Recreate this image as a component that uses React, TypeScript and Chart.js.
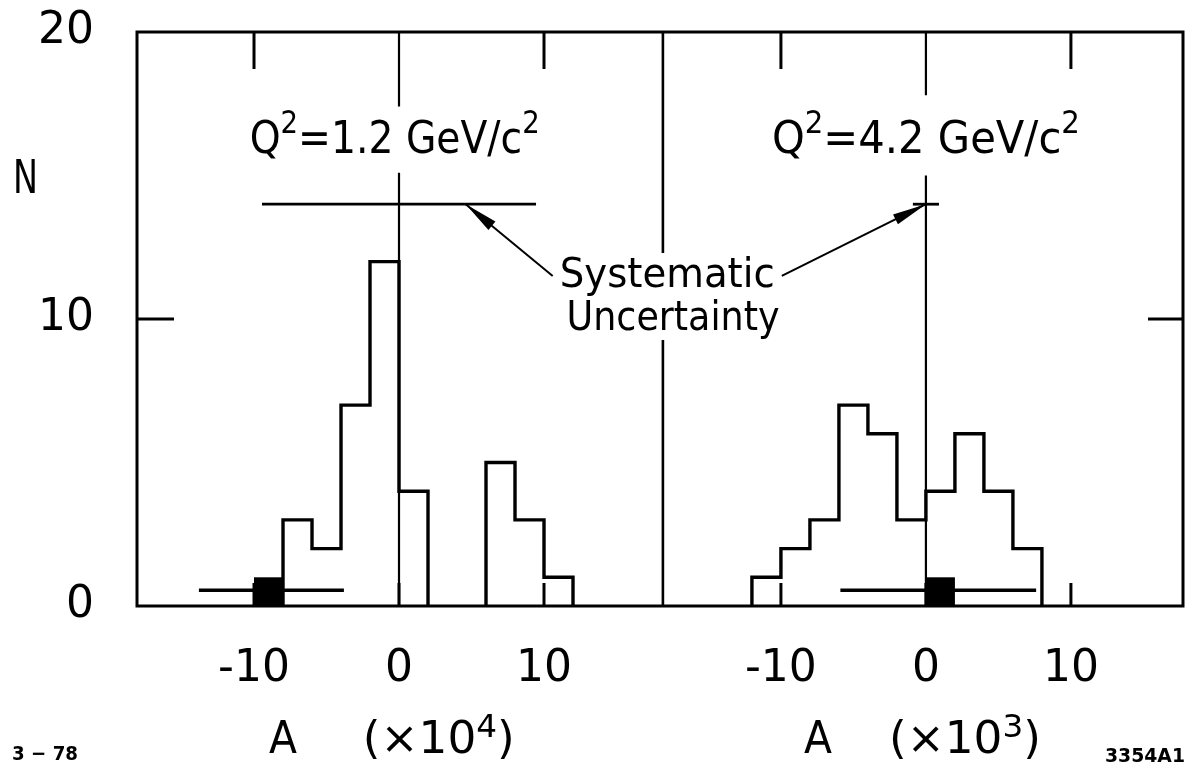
import { useEffect, useRef } from "react";
import { Chart, registerables } from "chart.js";

Chart.register(...registerables);

const FONT = "'DejaVu Sans', 'Noto Sans', Arial, sans-serif";

// ---------------- data ----------------
const yTickValues = [0, 10, 20];
const xTickValues = [-10, 0, 10];
const xTickLabels = ["-10", "0", "10"];

const binWidth = 2;
const leftBinStarts = [-8, -6, -4, -2, 0, 6, 8, 10];
const leftCounts = [3, 2, 7, 12, 4, 5, 3, 1];
const rightBinStarts = [-12, -10, -8, -6, -4, -2, 0, 2, 4, 6];
const rightCounts = [1, 2, 3, 7, 6, 3, 4, 6, 4, 2];

// mean markers (left panel, right panel)
const markerCenters = [-9, 1];
const markerCounts = [1, 1];
const errLow = [-13.8, -5.9];
const errHigh = [-3.8, 7.6];
const errLevel = 0.55;

// systematic uncertainty bars
const systLevel = 14;
const systLow = [-9.45, -0.9];
const systHigh = [9.45, 0.9];

const q2Values = ["1.2", "4.2"];
const scaleExponents = ["4", "3"];
const axisVar = "A";
const yLabel = "N";
const systText = ["Systematic", "Uncertainty"];
const noteLeft = "3 \u2212 78";
const noteRight = "3354A1";

// ---------------- panel geometry (axis units) ----------------
const X_MIN = -18.07;
const X_MAX = 54.07;
const OFFSETS = [0, 36.34];
const DIVIDER = 18.2;

type P = { x: number; y: number | null };

function outline(starts: number[], counts: number[], w: number, off: number): P[] {
  const pts: P[] = [];
  for (let i = 0; i < starts.length; i++) {
    const s = starts[i] + off;
    const e = s + w;
    const prevContig = i > 0 && Math.abs(starts[i - 1] + w - starts[i]) < 1e-9;
    const nextContig = i < starts.length - 1 && Math.abs(starts[i] + w - starts[i + 1]) < 1e-9;
    if (!prevContig) pts.push({ x: s, y: 0 });
    pts.push({ x: s, y: counts[i] }, { x: e, y: counts[i] });
    if (!nextContig) {
      pts.push({ x: e, y: 0 });
      if (i < starts.length - 1) pts.push({ x: e, y: null });
    }
  }
  return pts;
}

function vline(x: number, segs: [number, number][]): P[] {
  const pts: P[] = [];
  segs.forEach((s, i) => {
    if (i > 0) pts.push({ x, y: null });
    pts.push({ x, y: s[0] }, { x, y: s[1] });
  });
  return pts;
}

const base = {
  showLine: true,
  pointRadius: 0,
  pointHoverRadius: 0,
  borderColor: "#000",
  backgroundColor: "#000",
  fill: false,
  spanGaps: false,
};

function buildDatasets() {
  const ds: any[] = [];
  ds.push({ ...base, label: "hist-left", data: outline(leftBinStarts, leftCounts, binWidth, OFFSETS[0]), borderWidth: 3.4, borderJoinStyle: "miter" });
  ds.push({ ...base, label: "hist-right", data: outline(rightBinStarts, rightCounts, binWidth, OFFSETS[1]), borderWidth: 3.4, borderJoinStyle: "miter" });
  for (let p = 0; p < 2; p++) {
    const o = OFFSETS[p];
    ds.push({
      ...base,
      label: "marker-" + p,
      data: [
        { x: markerCenters[p] - binWidth / 2 + o, y: markerCounts[p] },
        { x: markerCenters[p] + binWidth / 2 + o, y: markerCounts[p] },
      ],
      borderWidth: 0,
      fill: "origin",
    });
    ds.push({
      ...base,
      label: "err-" + p,
      data: [
        { x: errLow[p] + o, y: errLevel },
        { x: errHigh[p] + o, y: errLevel },
      ],
      borderWidth: 3.4,
    });
    ds.push({
      ...base,
      label: "syst-" + p,
      data: [
        { x: systLow[p] + o, y: systLevel },
        { x: systHigh[p] + o, y: systLevel },
      ],
      borderWidth: 2.8,
    });
  }
  ds.push({ ...base, label: "zero-left", data: vline(OFFSETS[0], [[0, 15.1], [17.4, 20]]), borderWidth: 2.2 });
  ds.push({ ...base, label: "zero-right", data: vline(OFFSETS[1], [[0, 15.0], [17.8, 20]]), borderWidth: 2.2 });
  ds.push({ ...base, label: "divider", data: vline(DIVIDER, [[0, 9.27], [12.3, 20]]), borderWidth: 2.6 });
  return ds;
}

type Run = { t: string; sup?: boolean };

function drawRuns(
  ctx: CanvasRenderingContext2D,
  runs: Run[],
  x: number,
  baseline: number,
  size: number,
  targetW: number | null,
  align: "left" | "center" | "right",
  weight = "normal",
  supScale = 0.7,
  supRise = 0.44
) {
  const supSize = size * supScale;
  const widths = runs.map((r) => {
    ctx.font = `${weight} ${r.sup ? supSize : size}px ${FONT}`;
    return ctx.measureText(r.t).width;
  });
  const total = widths.reduce((a, b) => a + b, 0);
  const sx = targetW ? targetW / total : 1;
  ctx.save();
  ctx.translate(x, baseline);
  ctx.scale(sx, 1);
  ctx.textAlign = "left";
  ctx.textBaseline = "alphabetic";
  let cx = align === "center" ? -total / 2 : align === "right" ? -total : 0;
  runs.forEach((r, i) => {
    ctx.font = `${weight} ${r.sup ? supSize : size}px ${FONT}`;
    ctx.fillText(r.t, cx, r.sup ? -size * supRise : 0);
    cx += widths[i];
  });
  ctx.restore();
}

const decor = {
  id: "decor",
  afterDraw(chart: any) {
    const { ctx, chartArea: a } = chart;
    const xs = chart.scales.x;
    const ys = chart.scales.y;
    const X = (v: number, p: number) => xs.getPixelForValue(v + OFFSETS[p]);
    const Y = (v: number) => ys.getPixelForValue(v);
    const seg = (x1: number, y1: number, x2: number, y2: number) => {
      ctx.beginPath();
      ctx.moveTo(x1, y1);
      ctx.lineTo(x2, y2);
      ctx.stroke();
    };
    const arrow = (x1: number, y1: number, x2: number, y2: number) => {
      ctx.lineWidth = 2;
      seg(x1, y1, x2, y2);
      const ang = Math.atan2(y2 - y1, x2 - x1);
      const L = 34;
      const hw = 5.5;
      const bx = x2 - L * Math.cos(ang);
      const by = y2 - L * Math.sin(ang);
      ctx.beginPath();
      ctx.moveTo(x2, y2);
      ctx.lineTo(bx + hw * Math.sin(ang), by - hw * Math.cos(ang));
      ctx.lineTo(bx - hw * Math.sin(ang), by + hw * Math.cos(ang));
      ctx.closePath();
      ctx.fill();
    };

    ctx.save();
    ctx.strokeStyle = "#000";
    ctx.fillStyle = "#000";
    ctx.lineCap = "butt";

    // frame
    ctx.lineWidth = 3;
    ctx.strokeRect(a.left, a.top, a.right - a.left, a.bottom - a.top);

    // inward ticks
    ctx.lineWidth = 3;
    for (let p = 0; p < 2; p++) {
      for (const v of xTickValues) {
        const px = X(v, p);
        if (v !== 0) seg(px, a.top, px, a.top + 37);
        seg(px, a.bottom, px, a.bottom - 23);
      }
    }
    for (const v of yTickValues) {
      if (v <= ys.min || v >= ys.max) continue;
      const py = Y(v);
      seg(a.left, py, a.left + 37, py);
      seg(a.right, py, a.right - 35, py);
    }

    // arrows to the systematic bars
    arrow(X(10.6, 0), Y(11.5), X(4.6, 0), Y(systLevel));
    arrow(X(-9.94, 1), Y(11.5), X(0, 1), Y(systLevel));

    // Q^2 labels
    const qW = [290, 308];
    const qX = [-0.3, 0];
    for (let p = 0; p < 2; p++) {
      drawRuns(
        ctx,
        [{ t: "Q" }, { t: "2", sup: true }, { t: "=" + q2Values[p] + " GeV/c" }, { t: "2", sup: true }],
        X(qX[p], p),
        Y(15.78),
        45,
        qW[p],
        "center"
      );
    }

    // Systematic Uncertainty
    drawRuns(ctx, [{ t: systText[0] }], X(18.5, 0), Y(11.11), 41, 215, "center");
    drawRuns(ctx, [{ t: systText[1] }], X(18.9, 0), Y(9.62), 41, 213, "center");

    // y label
    drawRuns(ctx, [{ t: yLabel }], a.left - 111.5, Y(14.4), 46, 25, "center");

    // x axis titles
    const aX = [-8.0, -7.45];
    const pX = [-2.5, -2.55];
    for (let p = 0; p < 2; p++) {
      drawRuns(ctx, [{ t: axisVar }], X(aX[p], p), a.bottom + 147, 45, 28, "center");
      drawRuns(
        ctx,
        [{ t: "(\u00d710" }, { t: scaleExponents[p], sup: true }, { t: ")" }],
        X(pX[p], p),
        a.bottom + 147,
        44,
        152,
        "left",
        "normal",
        0.72,
        0.36
      );
    }

    // corner notes
    drawRuns(ctx, [{ t: noteLeft }], 12, a.bottom + 154, 20, 66, "left", "bold");
    drawRuns(ctx, [{ t: noteRight }], chart.width - 2, a.bottom + 156, 19, 80, "right", "bold");

    ctx.restore();
  },
};

function tickLabel(v: number): string {
  for (let p = 0; p < OFFSETS.length; p++) {
    for (let i = 0; i < xTickValues.length; i++) {
      if (Math.abs(xTickValues[i] + OFFSETS[p] - v) < 1e-6) return xTickLabels[i];
    }
  }
  return "";
}

export default function App() {
  const ref = useRef<HTMLCanvasElement>(null);
  useEffect(() => {
    if (!ref.current) return;
    Chart.defaults.font.family = FONT;
    const chart = new Chart(ref.current, {
      type: "scatter",
      data: { datasets: buildDatasets() },
      options: {
        animation: false,
        responsive: true,
        maintainAspectRatio: false,
        layout: { padding: { top: 32, right: 4, left: 0, bottom: 0 } },
        plugins: { legend: { display: false }, tooltip: { enabled: false } },
        events: [],
        scales: {
          x: {
            type: "linear",
            min: X_MIN,
            max: X_MAX,
            afterBuildTicks: (s: any) => {
              const vals: number[] = [];
              OFFSETS.forEach((o) => xTickValues.forEach((v) => vals.push(v + o)));
              s.ticks = vals.map((value) => ({ value }));
            },
            afterFit: (s: any) => {
              s.height = 163;
              s.paddingLeft = 0;
              s.paddingRight = 0;
            },
            ticks: {
              callback: (v: any) => tickLabel(Number(v)),
              font: { size: 44, family: FONT },
              color: "#000",
              padding: 29,
              autoSkip: false,
              maxRotation: 0,
              minRotation: 0,
            },
            grid: { display: false },
            border: { display: false },
          },
          y: {
            type: "linear",
            min: 0,
            max: 20,
            afterBuildTicks: (s: any) => {
              s.ticks = yTickValues.map((value) => ({ value }));
            },
            afterFit: (s: any) => {
              s.width = 137;
              s.paddingTop = 0;
              s.paddingBottom = 0;
            },
            ticks: {
              callback: (v: any) => String(v),
              font: { size: 44, family: FONT },
              color: "#000",
              padding: 35,
            },
            grid: { display: false },
            border: { display: false },
          },
        },
      },
      plugins: [decor],
    } as any);
    return () => chart.destroy();
  }, []);
  return (
    <div style={{ position: "fixed", left: 0, top: 0, width: 1187, height: 769, background: "#fff" }}>
      <canvas ref={ref} />
    </div>
  );
}
